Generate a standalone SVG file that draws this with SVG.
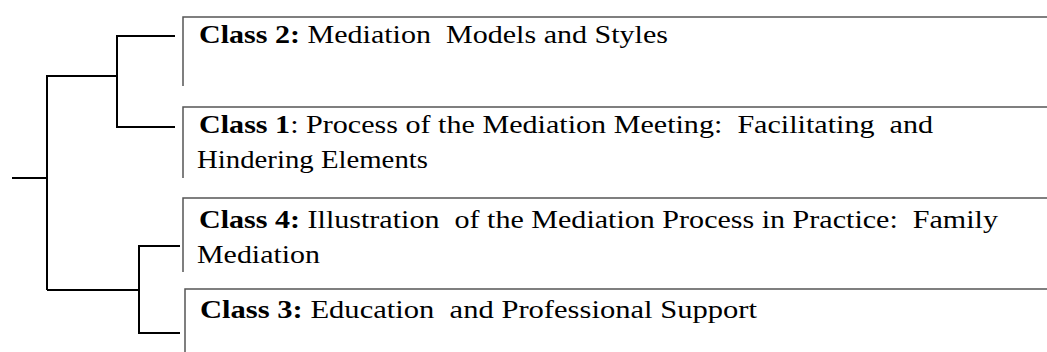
<svg xmlns="http://www.w3.org/2000/svg" width="1047" height="352" viewBox="0 0 1047 352">
  <style>
    .box { fill: none; stroke: #555; stroke-width: 1.5; }
    .conn { fill: none; stroke: #000; stroke-width: 2; }
    .t { font-family: "Liberation Serif", "Times New Roman", serif; font-size: 26px; fill: #000; white-space: pre; }
    .b { font-weight: bold; }
  </style>
  <rect width="1047" height="352" fill="#fff"/>
  <g id="connectors">
    <path class="conn" d="M175 36 H117 V127 H175"/>
    <path class="conn" d="M117 76 H47 V290"/>
    <path class="conn" d="M12 178 H47"/>
    <path class="conn" d="M47 290 H139"/>
    <path class="conn" d="M180 246 H139 V333 H180"/>
  </g>
  <g id="class2">
    <path class="box" d="M183 86 V17 H1047"/>
    <text class="t" x="199" y="43" textLength="469" lengthAdjust="spacingAndGlyphs" xml:space="preserve"><tspan class="b">Class 2:</tspan> Mediation  Models and Styles</text>
  </g>
  <g id="class1">
    <path class="box" d="M183 178 V107 H1047"/>
    <text class="t" x="199" y="133" textLength="734" lengthAdjust="spacingAndGlyphs" xml:space="preserve"><tspan class="b">Class 1</tspan>: Process of the Mediation Meeting:  Facilitating  and</text>
    <text class="t" x="197" y="168" textLength="231" lengthAdjust="spacingAndGlyphs">Hindering Elements</text>
  </g>
  <g id="class4">
    <path class="box" d="M183 272 V198 H1047"/>
    <text class="t" x="199" y="228" textLength="799" lengthAdjust="spacingAndGlyphs" xml:space="preserve"><tspan class="b">Class 4:</tspan> Illustration  of the Mediation Process in Practice:  Family</text>
    <text class="t" x="197" y="263" textLength="123" lengthAdjust="spacingAndGlyphs">Mediation</text>
  </g>
  <g id="class3">
    <path class="box" d="M185 352 V289 H1047"/>
    <text class="t" x="200" y="318" textLength="557" lengthAdjust="spacingAndGlyphs" xml:space="preserve"><tspan class="b">Class 3:</tspan> Education  and Professional Support</text>
  </g>
</svg>
